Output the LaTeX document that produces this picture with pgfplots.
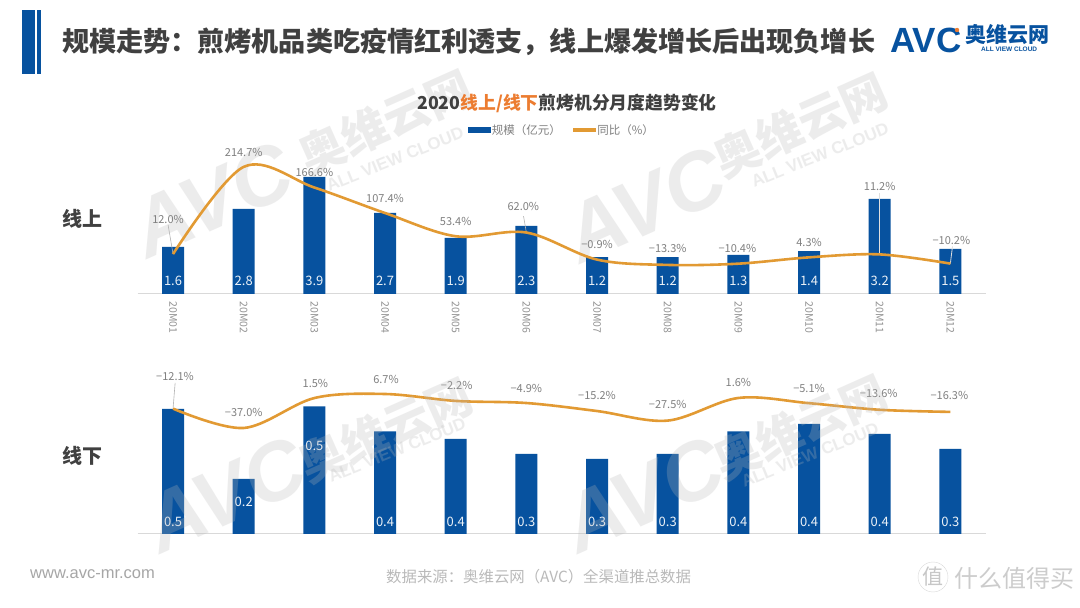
\documentclass[border=0pt]{standalone}
\usepackage{fontspec}
\usepackage{pgfplots}
\usepackage{pgfplotstable}
\pgfplotsset{compat=1.18}
\setmainfont{Noto Sans CJK SC}
\newfontfamily\lsans{Liberation Sans}
\definecolor{barblue}{HTML}{07529F}
\definecolor{lineor}{HTML}{E29A33}
\definecolor{titleor}{HTML}{EC7C30}
\definecolor{dark}{HTML}{404040}
\definecolor{lab}{HTML}{808080}
\definecolor{wm}{HTML}{B8B8B8}
\newcommand{\fs}[1]{\fontsize{#1}{#1}\selectfont}
\pgfplotstableread{
x v ly
0 1.57 0.433
1 2.84 0.433
2 3.90 0.433
3 2.70 0.433
4 1.87 0.433
5 2.27 0.433
6 1.23 0.433
7 1.23 0.433
8 1.30 0.433
9 1.43 0.433
10 3.17 0.433
11 1.50 0.433
}\topbars
\pgfplotstableread{
x v ly
0 0.50 0.048
1 0.22 0.128
2 0.51 0.352
3 0.41 0.048
4 0.38 0.048
5 0.32 0.048
6 0.30 0.048
7 0.32 0.048
8 0.41 0.048
9 0.44 0.048
10 0.40 0.048
11 0.34 0.048
}\botbars
\pgfplotstableread{
x p dx dy t
0 12.0 -5 35 12.0\%
1 214.7 0 14 214.7\%
2 166.6 0 15 166.6\%
3 107.4 0 15 107.4\%
4 53.4 0 15 53.4\%
5 62.0 -3 26.5 62.0\%
6 -0.9 0 15 −0.9\%
7 -13.3 0 16 −13.3\%
8 -10.4 -1 15 −10.4\%
9 4.3 0 15 4.3\%
10 11.2 0 68 11.2\%
11 -10.2 1 23 −10.2\%
}\topline
\pgfplotstableread{
x p dx dy t
0 -12.1 2 32.6 −12.1\%
1 -37.0 0 16 −37.0\%
2 1.5 1 15 1.5\%
3 6.7 1 15 6.7\%
4 -2.2 1 15 −2.2\%
5 -4.9 0 15 −4.9\%
6 -15.2 0 16 −15.2\%
7 -27.5 0 16.6 −27.5\%
8 1.6 0 15 1.6\%
9 -5.1 0 15 −5.1\%
10 -13.6 -1 16 −13.6\%
11 -16.3 -1 16 −16.3\%
}\botline
\pgfplotsset{
  panel/.style={scale only axis, width=848pt, height=154pt, xmin=-0.5, xmax=11.5,
    clip=false, axis line style={draw=none}, tick style={draw=none},
    ytick=\empty},
  barplot/.style={ybar, bar width=22pt, fill=barblue, draw=none, bar shift=0pt},
  barlabel/.style={draw=none, mark=none, nodes near coords, point meta=explicit,
    nodes near coords style={font=\fs{13}, text=white!92!barblue, anchor=center, inner sep=0pt,
      /pgf/number format/.cd, fixed, fixed zerofill, precision=1, assume math mode=true}},
  linelabel/.style={draw=none, mark=none, nodes near coords, point meta=explicit symbolic,
    visualization depends on={\thisrow{dx} \as \dxv},
    visualization depends on={\thisrow{dy} \as \dyv},
    nodes near coords style={font=\fs{11}, text=lab, anchor=center, inner sep=0pt,
      xshift=\dxv pt, yshift=\dyv pt}},
  curve/.style={smooth, tension=0.55, draw=lineor, line width=2.6pt, mark=none},
}
\newcommand{\watermark}[7]{%
  \node[rotate=24, text=wm, opacity=0.26, font=\lsans\bfseries\itshape\fs{82}, inner sep=0] at (#1,#2) {AVC};
  \node[rotate=24, text=wm, opacity=0.26, font=\bfseries\fs{46}, inner sep=0] at (#3,#4) {奥维云网};
  \node[rotate=22, text=wm, opacity=0.26, font=\lsans\bfseries\fs{17}, inner sep=0] at (#5,#6) {ALL VIEW CLOUD};
}
\begin{document}
\begin{tikzpicture}[x=1pt,y=1pt]
\path[use as bounding box, fill=white] (0,0) rectangle (1080,608);
% header
\fill[barblue] (22,598) rectangle (35,534);
\fill[barblue] (37,598) rectangle (41,534);
\node[anchor=west, inner sep=0, text=dark, font=\bfseries\fs{27.1}] at (62,566) {规模走势：煎烤机品类吃疫情红利透支，线上爆发增长后出现负增长};
% logo
\node[anchor=west, inner sep=0, text=barblue, font=\lsans\bfseries\fs{35}] at (890,568) {AVC};
\fill[titleor] (957,578) circle (2.2);
\node[anchor=west, inner sep=0, text=barblue, font=\bfseries\fs{21}] at (965,573) {奥维云网};
\node[anchor=west, inner sep=0, text=barblue, font=\lsans\bfseries\fs{6.5}] at (981,559) {ALL VIEW CLOUD};
% background watermarks
\watermark{212}{408}{385}{486}{395}{449}{}
\watermark{645}{403}{800}{483}{820}{453}{}
% titles
\node[inner sep=0, text=dark, font=\bfseries\fs{17.8}] at (567,504.5) {2020\textcolor{titleor}{线上/线下}煎烤机分月度趋势变化};
\node[anchor=west, inner sep=0, text=dark, font=\bfseries\fs{20}] at (62,389) {线上};
\node[anchor=west, inner sep=0, text=dark, font=\bfseries\fs{20}] at (62,152) {线下};
% top panel: bars
\begin{axis}[panel, at={(137.7pt,314pt)}, anchor=south west, ymin=0, ymax=5.133,
    axis x line*=bottom, x axis line style={draw=black!15, line width=1pt, -},
    xtick={0,...,11},
    xticklabels={20M01,20M02,20M03,20M04,20M05,20M06,20M07,20M08,20M09,20M10,20M11,20M12},
    xticklabel style={yshift=-4pt, rotate=-90, anchor=west, font=\fs{10.5}, text=lab!85!white},
    legend style={draw=none, fill=none, at={(0.5,1.065)}, anchor=center, legend columns=2,
      font=\fs{11.5}, text=lab, /tikz/every even column/.append style={column sep=10pt}},
    ]
\addlegendimage{area legend, legend image code/.code={\fill[barblue] (0pt,-2.5pt) rectangle (22pt,2.5pt);}}
\addlegendentry{规模（亿元）}
\addlegendimage{legend image code/.code={\fill[lineor] (0pt,-1.5pt) rectangle (22pt,1.5pt);}}
\addlegendentry{同比（\%）}
\addplot[barplot, forget plot] table[x=x,y=v] {\topbars};
\addplot[barlabel, forget plot] table[x=x,y=ly,meta=v] {\topbars};
\end{axis}
% top panel: line
\begin{axis}[panel, at={(137.7pt,314pt)}, anchor=south west, ymin=-80.9, ymax=277.2, xtick=\empty]
\draw[lab!60!white, line width=0.6pt] (axis cs:0,12) -- (axis cs:-0.07,80);
\draw[lab!60!white, line width=0.6pt] (axis cs:5,62) -- (axis cs:4.96,100);
\draw[white!75!lab, line width=0.8pt] (axis cs:10,11.2) -- (axis cs:10,155);
\draw[white!75!lab, line width=0.8pt] (axis cs:11,-10.2) -- (axis cs:11.03,30);
\addplot[curve] table[x=x,y=p] {\topline};
\addplot[linelabel] table[x=x,y=p,meta=t] {\topline};
\end{axis}
% bottom panel: bars
\begin{axis}[panel, at={(137.7pt,74pt)}, anchor=south west, ymin=0, ymax=0.616,
    axis x line*=bottom, x axis line style={draw=black!15, line width=1pt, -}, xtick=\empty]
\addplot[barplot] table[x=x,y=v] {\botbars};
\addplot[barlabel] table[x=x,y=ly,meta=v] {\botbars};
\end{axis}
% bottom panel: line
\begin{axis}[panel, at={(137.7pt,74pt)}, anchor=south west, ymin=-173.3, ymax=24.7, xtick=\empty]
\draw[lab!60!white, line width=0.6pt] (axis cs:0,-12.1) -- (axis cs:0.03,21);
\addplot[curve] table[x=x,y=p] {\botline};
\addplot[linelabel] table[x=x,y=p,meta=t] {\botline};
\end{axis}
% foreground watermarks
\watermark{225}{113}{385}{178}{397}{158}{}
\watermark{643}{113}{800}{181}{810}{153}{}
% footer
\node[anchor=west, inner sep=0, text=black!35, font=\lsans\fs{16.5}] at (30,34) {www.avc-mr.com};
\node[anchor=west, inner sep=0, text=black!27, font=\fs{15.4}] at (386,31.5) {数据来源：奥维云网（AVC）全渠道推总数据};
\node[circle, draw=black!15, inner sep=0.5pt, text=black!22, font=\fs{21}] at (933,31) {值};
\node[anchor=west, inner sep=0, text=black!20, font=\fs{24}] at (954,30) {什么值得买};
\end{tikzpicture}
\end{document}
